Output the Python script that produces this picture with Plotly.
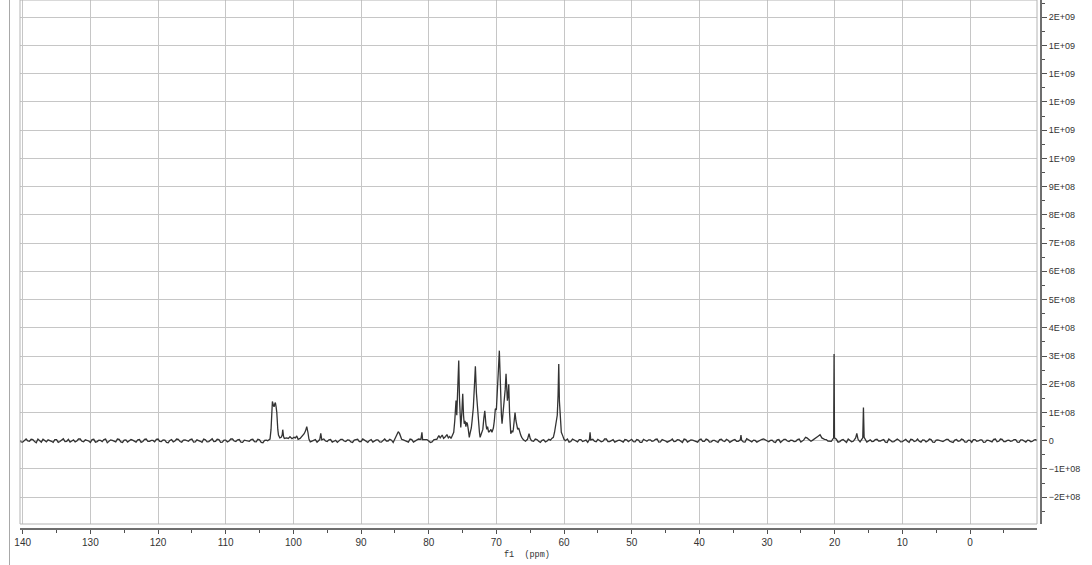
import numpy as np
import plotly.graph_objects as go

# baseline: sample positions (ppm) and the noise (units of 1E6)
base_ppm_a = np.linspace(140.5, -10.0, 302)
base_noise_a = [
    3, -5, 6, -2, 4, -7, 2, 5, -4, 1, -6, 4, -3, 7, -2, -5, 3, -1, 6, -4,
    2, -6, 5, -3, 1, 4, -7, 3, -2, 6, -4, 2, -5, 4, -1, 3, -6, 5, -2, 1,
    -4, 6, -3, 2, -7, 4, -1, 5, -5, 3, -2, 6, -4, 1, -6, 3, -3, 7, -2, 4,
    -5, 2, -1, 6, -3, 4, -6, 1, -2, 5, -4, 3, -7, 2, 4, -5, 6, -1, -3, 5,
    -2, 4, -6, 3, -1, 7, -4, 2, -5, 1, 6, -3, 4, -2, -6, 5, -1, 3, -4, 2,
    5, -3, 1, -6, 4, -2, 3, -5, 6, -1, 2, -4, 7, -3, 1, -5, 4, -2, 6, -6,
    3, -1, -4, 5, -2, 6, -3, 1, -7, 4, -2, 5, -1, 3, -5, 2, -4, 6, -3, 1,
    -6, 4, -2, 3, -4, 5, -1, 2, -5, 7, -3, 1, -2, 4, -6, 3, -1, 5, -4, 2,
    1, -5, 6, -3, 2, -4, 4, -1, -6, 3, -2, 5, -4, 6, -3, 2, -5, 1, -1, 4,
    -3, 5, -4, 2, -6, 1, 3, -2, 5, -5, 4, -1, -3, 6, -2, 3, -6, 4, -1, 2,
    -4, 3, -2, 6, -5, 1, -3, 4, -1, 5, -6, 2, -2, 3, -4, 7, -1, 2, -5, 3,
    6, -2, 1, -4, 3, -6, 5, -1, 2, -3, 4, -5, 1, 6, -2, -4, 3, -3, 5, -1,
    -2, 4, -5, 2, -1, 6, -4, 3, -6, 1, 5, -2, -3, 4, -1, 2, -5, 6, -4, 3,
    2, -3, 5, -6, 4, -1, -2, 3, -4, 6, -5, 2, 1, -3, 5, -2, -6, 4, -1, 3,
    -5, 1, 4, -2, 3, -6, 2, -1, 5, -4, 6, -3, 1, -2, 4, -5, 3, -1, 2, -4,
    3, -2,
]
base_ppm_b = np.linspace(140.25, -9.75, 301)
base_noise_b = [
    -4, 2, -1, 5, -3, 6, -5, 1, 3, -2, 4, -6, 2, -3, 5, -1, -4, 6, -2, 3,
    -1, 4, -5, 2, -3, 6, -2, 1, -4, 5, -6, 3, -1, 2, -5, 4, -3, 6, -2, 1,
    5, -2, 3, -6, 1, -4, 6, -3, 2, -1, 4, -5, 3, -2, 6, -4, 1, -3, 5, -6,
    2, -4, 6, -1, 3, -5, 2, -2, 4, -3, 5, -6, 1, -1, 3, -4, 6, -2, 2, -5,
    4, -1, -3, 5, -6, 2, -2, 4, -4, 6, -1, 3, -5, 1, -2, 5, -3, 2, -6, 4,
    -3, 6, -2, 1, -5, 3, -4, 2, -1, 5, -6, 4, -2, 3, -1, 6, -5, 2, -3, 1,
    4, -6, 3, -2, 5, -1, 2, -4, 6, -3, 1, -5, 4, -2, 3, -6, 5, -1, 2, -3,
    6, -4, 1, -2, 5, -3, 4, -6, 2, -1, 3, -5, 6, -2, 1, -4, 5, -3, 2, -6,
    -2, 3, -5, 6, -1, 4, -3, 2, -6, 5, -4, 1, -2, 6, -3, 4, -1, 2, -5, 3,
    1, -3, 4, -6, 5, -2, 3, -1, 6, -4, 2, -5, 1, -3, 4, -2, 6, -5, 3, -1,
    -5, 6, -2, 3, -4, 1, -6, 5, -3, 2, -1, 4, -2, 6, -5, 3, -4, 1, -2, 5,
    3, -4, 2, -6, 4, -1, 5, -3, 1, -2, 6, -5, 3, -4, 2, -1, 5, -6, 4, -2,
    -1, 5, -3, 4, -6, 2, -2, 6, -4, 1, -5, 3, -2, 5, -1, 4, -6, 2, -3, 6,
    -4, 1, -2, 5, -3, 6, -5, 2, -1, 4, -6, 3, -3, 1, 5, -4, 2, -2, 6, -5,
    2, -6, 4, -1, 3, -5, 1, -4, 6, -2, 5, -3, 2, -1, 4, -6, 3, -5, 1, -2,
    4,
]

# peak points: ppm and intensity (units of 1E8)
peak_ppm = [
    # ~103 ppm group
    103.8, 103.45, 103.3, 103.2, 103.1, 102.95, 102.85, 102.75, 102.66, 102.55,
    102.45, 102.3, 102.2, 102.0, 101.8, 101.65, 101.57, 101.45, 101.33, 101.0,
    100.75, 100.5, 100.2, 99.9, 99.7, 99.5, 99.3, 99.0, 98.7, 98.4,
    98.2, 98.02, 97.85, 97.7, 96.1, 95.95, 95.8,
    # 84.5 / 81 ppm
    85.0, 84.75, 84.5, 84.3, 84.0, 81.15, 81.0, 80.9,
    # main cluster
    78.8, 78.5, 78.3, 78.0, 77.8, 77.5, 77.3, 77.1, 76.9, 76.7,
    76.5, 76.3, 76.15, 75.96, 75.85, 75.7, 75.56, 75.45, 75.26, 75.1,
    74.97, 74.85, 74.75, 74.63, 74.5, 74.4, 74.28, 74.15, 74.0, 73.85,
    73.7, 73.59, 73.4, 73.25, 73.1, 72.95, 72.8, 72.65, 72.5, 72.4,
    72.25, 72.1, 72.0, 71.85, 71.71, 71.55, 71.42, 71.3, 71.15, 70.93,
    70.8, 70.65, 70.44, 70.3, 70.15, 70.0, 69.85, 69.7, 69.56, 69.45,
    69.35, 69.25, 69.16, 69.0, 68.86, 68.7, 68.57, 68.45, 68.37, 68.27,
    68.17, 68.05, 67.95, 67.87, 67.7, 67.58, 67.49, 67.35, 67.24, 67.1,
    66.99, 66.85, 66.7, 66.55, 66.4, 66.25, 66.0, 65.7, 65.4, 65.17,
    65.0, 64.8,
    # 60.8 ppm
    62.0, 61.8, 61.58, 61.4, 61.18, 61.0, 60.88, 60.78, 60.68, 60.55,
    60.4, 60.2, 60.0, 59.8,
    # 56 ppm
    56.25, 56.15, 56.05,
    # 34 ppm
    33.95, 33.85, 33.75,
    # 22 - 15 ppm
    24.6, 24.3, 24.1, 23.8, 22.8, 22.5, 22.16, 21.9, 20.15, 20.09,
    20.03, 16.9, 16.73, 16.55, 15.85, 15.75, 15.65,
]
peak_int = [
    0.0, 0.06, 0.4, 1.2, 1.39, 1.25, 1.2, 1.3, 1.35, 1.2,
    1.0, 0.4, 0.2, 0.1, 0.12, 0.2, 0.39, 0.15, 0.08, 0.1,
    0.08, 0.14, 0.07, 0.12, 0.1, 0.17, 0.05, 0.08, 0.15, 0.25,
    0.35, 0.5, 0.3, 0.06, 0.04, 0.26, 0.03,
    0.05, 0.2, 0.32, 0.25, 0.05, 0.05, 0.3, 0.04,
    0.05, 0.18, 0.1, 0.2, 0.08, 0.15, 0.22, 0.1, 0.15, 0.08,
    0.18, 0.3, 0.7, 1.42, 0.9, 1.9, 2.84, 1.5, 0.47, 1.0,
    1.66, 0.9, 0.6, 0.7, 0.5, 0.65, 0.6, 0.4, 0.12, 0.3,
    0.45, 0.7, 1.18, 1.9, 2.64, 1.7, 1.18, 0.6, 0.3, 0.12,
    0.25, 0.3, 0.4, 0.8, 1.06, 0.6, 0.4, 0.5, 0.3, 0.35,
    0.4, 0.3, 0.45, 0.7, 1.13, 1.1, 1.66, 2.5, 3.19, 2.0,
    1.2, 0.9, 0.6, 1.0, 1.42, 1.8, 2.37, 1.8, 1.42, 1.6,
    2.0, 1.0, 0.5, 0.25, 0.35, 0.3, 0.4, 0.7, 1.0, 0.7,
    0.55, 0.4, 0.45, 0.3, 0.2, 0.12, 0.03, -0.02, 0.05, 0.25,
    0.08, 0.0,
    0.02, 0.08, 0.12, 0.3, 0.6, 0.9, 1.6, 2.72, 1.4, 0.7,
    0.3, 0.18, 0.05, 0.0,
    0.04, 0.3, 0.03,
    0.03, 0.2, 0.02,
    0.02, 0.12, 0.1, 0.03, 0.08, 0.15, 0.21, 0.1, 0.1, 3.07,
    0.1, 0.1, 0.26, 0.05, 0.1, 1.18, 0.12,
]

x_ticks = [140, 130, 120, 110, 100, 90, 80, 70, 60, 50, 40, 30, 20, 10, 0]
x_labels = ['140', '130', '120', '110', '100', '90', '80', '70', '60', '50',
            '40', '30', '20', '10', '0']
y_ticks = [-2e8, -1e8, 0, 1e8, 2e8, 3e8, 4e8, 5e8, 6e8, 7e8, 8e8, 9e8,
           1.0e9, 1.1e9, 1.2e9, 1.3e9, 1.4e9, 1.5e9]
y_labels = ['\u22122E+08', '\u22121E+08', '0', '1E+08', '2E+08', '3E+08', '4E+08',
            '5E+08', '6E+08', '7E+08', '8E+08', '9E+08', '1E+09', '1E+09',
            '1E+09', '1E+09', '1E+09', '2E+09']

# merge baseline and peaks: drop baseline samples that sit inside a peak region
pk_ppm = np.array(peak_ppm)
pk_int = np.array(peak_int) * 1e8
base_ppm = np.concatenate([base_ppm_a, base_ppm_b])
base_int = np.concatenate([np.array(base_noise_a, dtype=float),
                           np.array(base_noise_b, dtype=float)]) * 1e6
keep = np.array([np.min(np.abs(pk_ppm - p)) > 0.2 for p in base_ppm])
ppm = np.concatenate([base_ppm[keep], pk_ppm])
inten = np.concatenate([base_int[keep], pk_int])
order = np.argsort(-ppm)
ppm, inten = ppm[order], inten[order]

fig = go.Figure(go.Scatter(x=ppm, y=inten, mode='lines',
                           line=dict(color='#333333', width=1.3),
                           hoverinfo='skip'))

grid = '#c6c6c6'
tickfont = dict(family='Liberation Sans', size=10, color='#333333')
xdom = 1017 / 1021
ybot = 5 / 529

fig.update_layout(
    width=1092, height=565,
    margin=dict(l=20, r=51, t=0, b=36),
    paper_bgcolor='white', plot_bgcolor='white',
    showlegend=False,
    xaxis=dict(domain=[0, xdom], range=[140.4, -9.9], anchor='free', position=0,
               showline=True, linecolor='#6e6e6e', linewidth=2,
               ticks='outside', ticklen=4, tickcolor='#505050',
               tickvals=x_ticks, ticktext=x_labels, tickfont=tickfont,
               showgrid=True, gridcolor=grid, gridwidth=1, zeroline=False,
               minor=dict(tickmode='linear', tick0=0, dtick=5, ticks='outside',
                          ticklen=3, tickcolor='#505050', showgrid=False)),
    yaxis=dict(domain=[ybot, 1], range=[-2.95e8, 1.561e9], side='right',
               anchor='free', position=1,
               showline=True, linecolor='#6e6e6e', linewidth=2,
               ticks='outside', ticklen=5, tickcolor='#505050',
               tickvals=y_ticks, ticktext=y_labels,
               tickfont=dict(family='Liberation Sans', size=9, color='#333333'),
               showgrid=True, gridcolor=grid, gridwidth=1, zeroline=False,
               minor=dict(tickmode='linear', tick0=0, dtick=5e7, ticks='outside',
                          ticklen=3, tickcolor='#505050', showgrid=False)),
    shapes=[
        dict(type='rect', xref='paper', yref='paper', x0=0, x1=xdom, y0=ybot, y1=1,
             line=dict(color='#b4b4b4', width=1)),
        dict(type='line', xref='paper', yref='paper', x0=-10.5 / 1021, x1=-10.5 / 1021,
             y0=-36 / 529, y1=1, line=dict(color='#a8a8a8', width=1)),
    ],
    annotations=[
        dict(text='f1\u00a0\u00a0(ppm)', xref='paper', yref='paper',
             x=507 / 1021, y=-26 / 529, showarrow=False,
             xanchor='center', yanchor='middle',
             font=dict(family='Liberation Mono', size=8.5, color='#333333')),
    ],
)

# the page body has a default 8px margin; drop it so the figure fills the window
fig.write_html("out.html", config={'displayModeBar': False},
               post_script="document.body.style.margin='0';")
